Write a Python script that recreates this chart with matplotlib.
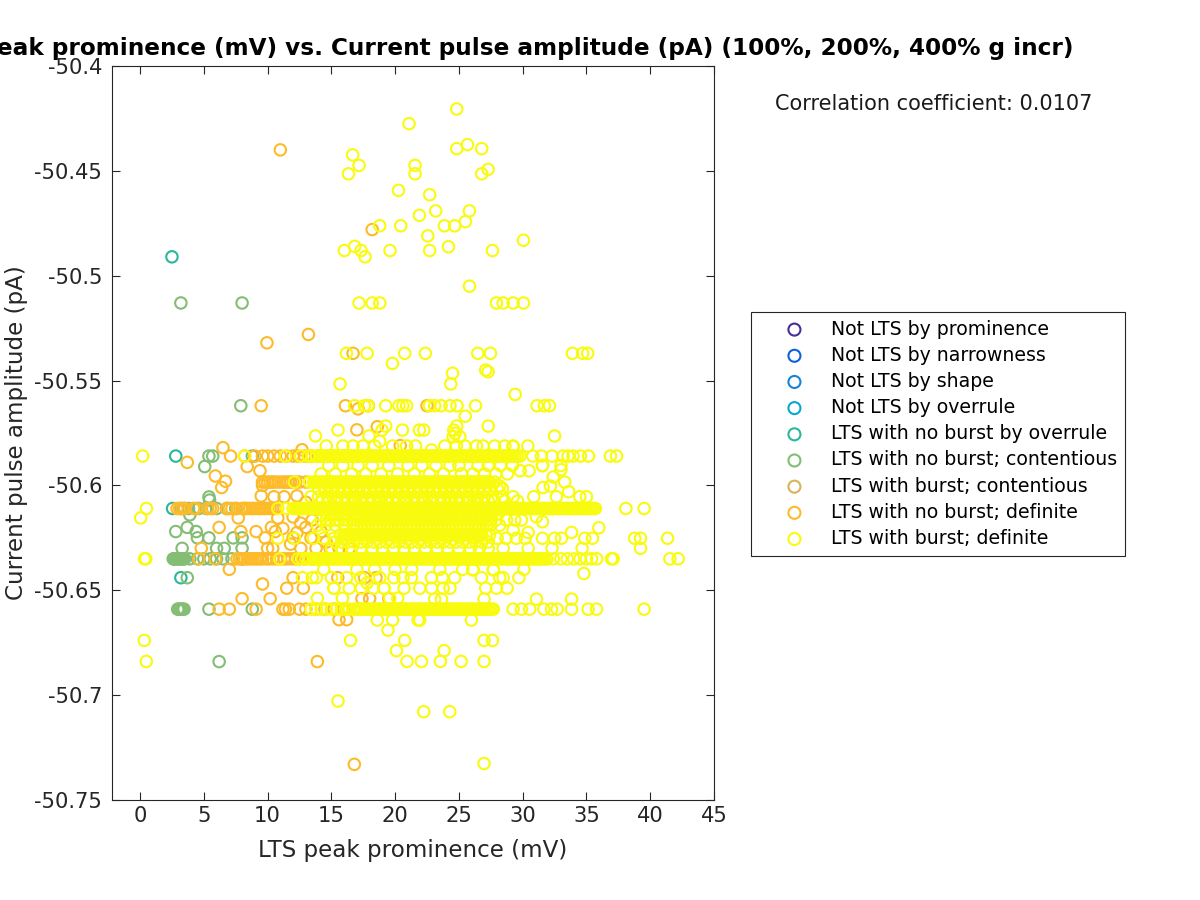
import matplotlib
matplotlib.use("Agg")
import matplotlib.pyplot as plt

TITLE = "LTS peak prominence (mV) vs. Current pulse amplitude (pA) (100%, 200%, 400% g incr)"
XLABEL = "LTS peak prominence (mV)"
YLABEL = "Current pulse amplitude (pA)"
CORR = "Correlation coefficient: 0.0107"
LABELS = ["Not LTS by prominence", "Not LTS by narrowness", "Not LTS by shape", "Not LTS by overrule",
          "LTS with no burst by overrule", "LTS with no burst; contentious", "LTS with burst; contentious",
          "LTS with no burst; definite", "LTS with burst; definite"]
COLORS = ["#452f98", "#0d60dc", "#1585d8", "#08a8c8", "#2ab79e", "#84bd74", "#d6b458", "#fdbb2a", "#f9fb0e"]
XTICKS = [0, 5, 10, 15, 20, 25, 30, 35, 40, 45]
YTICKS = [-50.75, -50.7, -50.65, -50.6, -50.55, -50.5, -50.45, -50.4]
YTICKLABELS = ["-50.75", "-50.7", "-50.65", "-50.6", "-50.55", "-50.5", "-50.45", "-50.4"]

# LTS with no burst by overrule
teal_x = [2.5, 2.8, 2.55, 2.7, 3.2]
teal_y = [-50.491, -50.586, -50.611, -50.635, -50.644]

# LTS with no burst; contentious
green_x = [3.2, 8.0, 7.9, 6.2, 5.4, 5.7, 8.8, 5.07, 5.4, 5.45, 3.9, 2.8, 3.7, 4.4, 4.5, 5.4, 7.3, 8.0, 3.3, 6.0, 6.6, 8.0, 3.7,
           3.2, 3.5, 3.8, 4.6, 5.2, 6.0, 6.8, 7.5, 8.2,
           2.6, 2.7, 2.8, 2.9, 3.0, 3.1, 3.2, 3.3, 3.4, 3.5, 3.9, 4.5, 5.0, 5.5, 6.0, 6.5, 7.2, 8.0,
           2.95, 3.05, 3.15, 3.25, 3.35, 3.45, 5.4, 8.8]
green_y = [-50.513, -50.513, -50.562, -50.684, -50.586, -50.586, -50.586, -50.591, -50.6055, -50.607, -50.614, -50.622, -50.620, -50.622, -50.625, -50.625, -50.625, -50.625, -50.630, -50.630, -50.630, -50.630, -50.644,
           -50.611, -50.611, -50.611, -50.611, -50.611, -50.611, -50.611, -50.611, -50.611,
           -50.635, -50.635, -50.635, -50.635, -50.635, -50.635, -50.635, -50.635, -50.635, -50.635, -50.635, -50.635, -50.635, -50.635, -50.635, -50.635, -50.635, -50.635,
           -50.659, -50.659, -50.659, -50.659, -50.659, -50.659, -50.659, -50.659]

# LTS with no burst; definite: scattered points
orange_x = [11.0, 18.2, 13.2, 9.95, 16.7, 9.5, 16.1, 17.1, 17.9, 22.5, 17.0, 18.6, 20.4, 12.7, 6.5, 3.7, 7.1, 5.9, 6.7, 6.4, 8.4,
            9.5, 7.7, 10.8, 9.1, 9.8, 6.2, 7.9, 4.8, 10.3, 10.6, 12.0, 13.0, 7.0, 9.6, 11.5, 12.8, 8.0, 10.2, 12.0, 15.5, 17.6,
            15.6, 16.2, 13.9, 16.8, 9.4, 9.6, 10.0, 10.4, 15.0, 18.5, 19.5, 17.4, 18.0,
            12.3, 13.0, 12.0, 12.6, 13.5, 11.2, 12.3, 13.4, 14.2, 14.6, 11.8, 12.6, 13.8, 14.9, 15.6, 16.4, 10.5, 11.3]
orange_y = [-50.440, -50.478, -50.528, -50.532, -50.537, -50.562, -50.562, -50.5635, -50.562, -50.562, -50.5735, -50.572, -50.581, -50.583, -50.582, -50.589, -50.586, -50.5955, -50.598, -50.601, -50.591,
            -50.605, -50.6155, -50.6155, -50.622, -50.625, -50.620, -50.622, -50.630, -50.620, -50.622, -50.625, -50.620, -50.640, -50.647, -50.649, -50.649, -50.654, -50.654, -50.644, -50.644, -50.644,
            -50.664, -50.664, -50.684, -50.733, -50.593, -50.6, -50.63, -50.63, -50.63, -50.644, -50.654, -50.654, -50.654,
            -50.605, -50.608, -50.615, -50.618, -50.6165, -50.6205, -50.6225, -50.625, -50.622, -50.627, -50.628, -50.630, -50.630, -50.630, -50.630, -50.630, -50.6054, -50.6054]
# LTS with no burst; definite: rows
orange_r586 = [8.2, 9.0, 9.6, 10.0, 10.5, 11.0, 11.5, 12.0, 12.4, 12.9, 13.4, 14.0, 15.0, 16.0]
orange_r598 = [9.6, 9.8, 10.0, 10.2, 10.4, 10.6, 10.9, 11.2, 11.4, 11.6, 11.8, 12.0, 12.2, 12.5, 13.0]
orange_r611 = [2.9, 3.1, 3.3, 3.5, 4.2, 4.4, 5.3, 5.5, 5.7, 6.8, 7.0, 7.2, 7.6, 8.0, 8.2, 8.4, 8.6, 8.8, 9.0, 9.2, 9.4, 9.6, 9.8, 10.0, 10.2, 10.4, 10.6]
orange_r635 = [4.6, 5.9, 7.6, 7.8, 8.0, 8.2, 8.4, 8.6, 8.8, 9.0, 9.2, 9.4, 9.6, 9.9, 10.1, 10.4, 10.7, 11.0, 11.3, 11.6, 11.9, 12.2, 12.5, 12.9, 13.5]
orange_r659 = [6.2, 7.0, 9.1, 11.2, 11.4, 11.7, 12.5, 13.0, 13.8, 14.5, 15.2, 16.0]

# LTS with burst; definite: scattered points, high values
yel_high_x = [24.83, 21.09, 24.83, 25.67, 26.79, 16.67, 17.17, 16.34, 21.56, 21.56, 26.79, 27.29, 20.26, 22.71, 25.82, 23.18, 21.9, 25.51, 23.86, 24.67, 20.44, 18.79, 22.56, 30.06, 24.18, 16.02, 16.83, 17.33, 17.64, 19.6, 22.71, 27.63, 25.83,
              17.17, 18.2, 18.8, 27.94, 28.47, 29.25, 30.06,
              16.18, 17.8, 20.75, 22.37, 26.48, 27.47, 33.9, 34.7, 35.1, 19.79, 24.5, 27.1, 27.29, 24.36, 15.68, 29.41]
yel_high_y = [-50.4205, -50.4275, -50.4394, -50.4375, -50.4394, -50.4424, -50.4474, -50.4514, -50.4474, -50.4514, -50.4514, -50.4493, -50.4593, -50.4614, -50.4691, -50.4691, -50.4712, -50.4742, -50.4762, -50.4762, -50.4762, -50.4762, -50.481, -50.4831, -50.4862, -50.488, -50.486, -50.488, -50.491, -50.488, -50.488, -50.488, -50.505,
              -50.513, -50.513, -50.513, -50.513, -50.513, -50.513, -50.513,
              -50.537, -50.537, -50.537, -50.537, -50.537, -50.537, -50.537, -50.537, -50.537, -50.5418, -50.5465, -50.545, -50.5458, -50.5516, -50.5516, -50.5566]
yel_r562 = [16.83, 17.6, 17.88, 19.26, 20.3, 20.6, 20.9, 22.7, 23.1, 23.6, 24.3, 24.85, 26.3, 31.13, 31.7, 32.1]
yel_mid_x = [25.5, 27.3, 24.83, 24.6, 24.7, 24.55, 25.07, 15.52, 13.75, 17.95, 19.26, 18.97, 20.57, 21.9, 22.25, 18.79, 16.7, 17.48, 22.85, 25.46, 26.38, 26.9, 29.25, 32.5, 29.25,
             31.55, 33.3, 32.18, 28.2, 29.8, 30.5, 33.0, 31.6, 32.4, 33.6]
yel_mid_y = [-50.567, -50.5717, -50.5717, -50.5736, -50.5752, -50.5768, -50.5768, -50.5736, -50.5764, -50.5764, -50.5717, -50.5736, -50.5736, -50.5736, -50.5736, -50.579, -50.5812, -50.5812, -50.5831, -50.5812, -50.5812, -50.5812, -50.5812, -50.5764, -50.5815,
             -50.5906, -50.5984, -50.6003, -50.6003, -50.593, -50.593, -50.5925, -50.601, -50.596, -50.603]
yel_low_x = [31.08, 31.55, 29.9, 35.97, 33.83, 30.43, 29.25, 28.73, 29.38, 34.8, 26.1, 27.7, 31.08, 33.83, 23.1, 23.63, 26.97, 21.93, 25.98, 20.75, 26.97, 27.63, 23.84,
             20.93, 22.06, 23.55, 25.17, 26.97, 22.24, 24.28, 26.97, 0.33, 0.49, 15.52, 16.5, 20.1, 19.44, 18.6, 19.8, 21.8, 13.9, 15.87, 19.58, 20.2, 19.13, 15.2, 17.35, 17.8,
             0.05]
yel_low_y = [-50.615, -50.6173, -50.6165, -50.6202, -50.6224, -50.6224, -50.6213, -50.6165, -50.6165, -50.642, -50.6403, -50.6403, -50.6542, -50.6542, -50.6542, -50.6542, -50.6542, -50.6642, -50.6642, -50.6739, -50.6739, -50.6739, -50.6788,
             -50.6839, -50.6839, -50.6839, -50.6839, -50.6839, -50.7079, -50.7079, -50.7326, -50.6739, -50.6839, -50.7028, -50.6739, -50.6788, -50.669, -50.6642, -50.6642, -50.6642, -50.6538, -50.6538, -50.6538, -50.6538, -50.649, -50.649, -50.649, -50.6465,
             -50.6155]
# LTS with burst; definite: rows
yel_r5812 = [14.6, 15.9, 18.4, 19.8, 20.9, 21.6, 23.9, 24.8, 27.8, 28.6, 30.4]
yel_r5905 = [14.8, 15.9, 17.1, 18.2, 19.5, 21.0, 22.1, 23.2, 24.3, 25.0, 26.5, 27.3, 28.26, 29.2, 31.55, 33.0]
yel_r5945 = [14.2, 15.3, 16.6, 17.7, 18.9, 20.2, 21.5, 22.7, 23.8, 25.2, 26.1, 27.0, 27.9, 28.8]
yel_r6015 = [14.0, 14.5, 15.0, 15.5, 16.0, 16.5, 17.0, 17.5, 18.0, 18.5, 19.0, 19.5, 20.0, 20.5, 21.0, 21.5, 22.0, 22.5, 23.0, 23.5, 24.0, 24.5, 25.0, 25.5, 26.0, 26.5, 27.0, 27.5, 28.0, 28.4]
yel_r6054 = [13.4, 14.0, 14.7, 15.4, 16.1, 16.8, 17.4, 18.1, 18.8, 19.4, 20.1, 20.8, 21.5, 22.2, 22.9, 23.6, 24.3, 25.0, 25.7, 26.4, 27.0, 27.6, 28.4, 29.25, 30.87, 32.65, 34.48, 35.0]
yel_r6075 = [14.3, 14.8, 15.3, 15.8, 16.3, 16.8, 17.3, 17.8, 18.3, 18.8, 19.3, 19.8, 20.3, 20.8, 21.3, 21.8, 22.3, 22.8, 23.3, 23.8, 24.3, 24.8, 25.3, 25.8, 26.3, 26.8, 27.3, 27.8, 28.6, 29.6]
yel_r625 = [10.8, 12.1, 13.6, 14.4, 15.2, 28.0, 28.7, 29.5, 30.2, 31.55, 32.5, 33.03, 34.87, 35.47, 38.79, 39.24, 41.36]
yel_r627 = [15.3, 15.8, 16.3, 16.8, 17.3, 17.8, 18.3, 18.8, 19.3, 19.8, 20.3, 20.8, 21.3, 21.8, 22.3, 22.8, 23.3, 23.8, 24.3, 24.8, 25.3, 25.8, 26.3, 26.8, 27.3]
yel_r630 = [15.0, 15.8, 16.6, 17.3, 18.2, 19.0, 19.9, 20.7, 21.5, 22.4, 23.3, 24.1, 25.0, 25.9, 26.6, 27.3, 28.47, 30.43, 32.3, 34.66, 39.24]
yel_r586 = [0.2, 8.2, 11.4, 12.6, 13.2, 13.5, 13.8, 14.1, 14.4, 14.7, 15.0, 15.3, 15.6, 15.9, 16.2, 16.5, 16.8, 17.1, 17.4, 17.7, 18.0, 18.3, 18.6, 18.9, 19.2, 19.5, 19.8, 20.1, 20.4, 20.7, 21.0, 21.3, 21.6, 21.9, 22.2, 22.5, 22.8, 23.1, 23.4, 23.7, 24.0, 24.3, 24.6, 24.9, 25.2, 25.5, 25.8, 26.1, 26.4, 26.7, 27.0, 27.3, 27.6, 27.9, 28.2, 28.5, 28.8, 29.1, 29.4, 29.8, 30.8, 31.47, 32.3, 33.17, 33.56, 33.95, 34.53, 35.16, 36.88, 37.36]
yel_r586b = [14.25, 14.55, 14.85, 15.15, 15.45, 15.75, 16.05, 16.35, 16.65, 16.95, 17.25, 17.55, 17.85, 18.15, 18.45, 18.75, 19.05, 19.35, 19.65, 19.95, 20.25, 20.55, 20.85, 21.15, 21.45, 21.75, 22.05, 22.35, 22.65, 22.95, 23.25, 23.55, 23.85, 24.15, 24.45, 24.75, 25.05, 25.35, 25.65, 25.95, 26.25, 26.55, 26.85, 27.15, 27.45, 27.75, 28.05, 28.35, 28.65, 28.95, 29.25, 29.6]
yel_r598 = [12.1, 13.3, 13.6, 13.9, 14.2, 14.5, 14.8, 15.1, 15.4, 15.7, 16.0, 16.3, 16.6, 16.9, 17.2, 17.5, 17.8, 18.1, 18.4, 18.7, 19.0, 19.3, 19.6, 19.9, 20.2, 20.5, 20.8, 21.1, 21.4, 21.7, 22.0, 22.3, 22.6, 22.9, 23.2, 23.5, 23.8, 24.1, 24.4, 24.7, 25.0, 25.3, 25.6, 25.9, 26.2, 26.5, 26.8, 27.1, 27.4]
yel_r598b = [13.75, 14.05, 14.35, 14.65, 14.95, 15.25, 15.55, 15.85, 16.15, 16.45, 16.75, 17.05, 17.35, 17.65, 17.95, 18.25, 18.55, 18.85, 19.15, 19.45, 19.75, 20.05, 20.35, 20.65, 20.95, 21.25, 21.55, 21.85, 22.15, 22.45, 22.75, 23.05, 23.35, 23.65, 23.95, 24.25, 24.55, 24.85, 25.15, 25.45, 25.75, 26.05, 26.35, 26.65, 26.95, 27.25, 27.8]
yel_r603 = [14.5, 15.0, 15.5, 16.0, 16.5, 17.0, 17.5, 18.0, 18.5, 19.0, 19.5, 20.0, 20.5, 21.0, 21.5, 22.0, 22.5, 23.0, 23.5, 24.0, 24.5, 25.0, 25.5, 26.0, 26.5, 27.0]
yel_r611 = [0.5, 10.8, 11.5, 12.0, 12.3, 12.6, 12.9, 13.2, 13.5, 13.8, 14.1, 14.4, 14.7, 15.0, 15.3, 15.6, 15.9, 16.2, 16.5, 16.8, 17.1, 17.4, 17.7, 18.0, 18.3, 18.6, 18.9, 19.2, 19.5, 19.8, 20.1, 20.4, 20.7, 21.0, 21.3, 21.6, 21.9, 22.2, 22.5, 22.8, 23.1, 23.4, 23.7, 24.0, 24.3, 24.6, 24.9, 25.2, 25.5, 25.8, 26.1, 26.4, 26.7, 27.0, 27.3, 27.6, 27.9, 28.2, 28.5, 28.8, 29.1, 29.4, 29.7, 30.0, 30.3, 30.6, 30.9, 31.2, 31.5, 31.8, 32.1, 32.4, 32.7, 33.0, 33.3, 33.6, 33.9, 34.2, 34.5, 34.8, 35.1, 35.4, 35.7, 38.09, 39.52]
yel_r611b = [12.15, 12.45, 12.75, 13.05, 13.35, 13.65, 13.95, 14.25, 14.55, 14.85, 15.15, 15.45, 15.75, 16.05, 16.35, 16.65, 16.95, 17.25, 17.55, 17.85, 18.15, 18.45, 18.75, 19.05, 19.35, 19.65, 19.95, 20.25, 20.55, 20.85, 21.15, 21.45, 21.75, 22.05, 22.35, 22.65, 22.95, 23.25, 23.55, 23.85, 24.15, 24.45, 24.75, 25.05, 25.35, 25.65, 25.95, 26.25, 26.55, 26.85, 27.15, 27.45, 27.75, 28.05, 28.35, 28.65, 28.95, 29.25, 29.55, 29.85, 30.15, 30.45, 30.75, 31.05, 31.35, 31.65, 31.95, 32.25, 32.55, 32.85, 33.15, 33.45, 33.75, 34.05, 34.35, 34.65, 34.95, 35.25, 35.55]
yel_r6135 = [14.6, 15.1, 15.6, 16.1, 16.6, 17.1, 17.6, 18.1, 18.6, 19.1, 19.6, 20.1, 20.6, 21.1, 21.6, 22.1, 22.6, 23.1, 23.6, 24.1, 24.6, 25.1, 25.6, 26.1, 26.6, 27.1, 27.6, 28.1]
yel_r616 = [14.2, 14.6, 14.9, 15.3, 15.6, 16.0, 16.3, 16.6, 17.0, 17.3, 17.6, 18.0, 18.2, 18.6, 18.8, 19.1, 19.4, 19.7, 20.0, 20.3, 20.6, 20.9, 21.2, 21.5, 21.8, 22.1, 22.4, 22.7, 23.0, 23.3, 23.6, 23.9, 24.2, 24.5, 24.8, 25.1, 25.4, 25.7, 26.0, 26.3, 26.6, 26.9, 27.2, 27.5, 27.9]
yel_r619 = [13.9, 14.6, 15.3, 16.0, 16.7, 17.0, 17.3, 17.6, 17.9, 18.2, 18.5, 18.8, 19.1, 19.4, 19.7, 20.0, 20.3, 20.6, 20.9, 21.2, 21.5, 21.8, 22.1, 22.4, 22.7, 23.0, 23.3, 23.6, 23.9, 24.2, 24.5, 24.8, 25.1, 25.4, 25.7, 26.0, 26.3, 26.6, 26.9, 27.2, 27.5, 28.2]
yel_r622 = [15.7, 16.0, 16.3, 16.6, 16.9, 17.2, 17.5, 17.8, 18.1, 18.4, 18.7, 19.0, 19.3, 19.6, 19.9, 20.2, 20.5, 20.8, 21.1, 21.4, 21.7, 22.0, 22.3, 22.6, 22.9, 23.2, 23.5, 23.8, 24.1, 24.4, 24.7, 25.0, 25.3, 25.6, 25.9, 26.2, 26.5, 26.8, 27.1, 27.4]
yel_r622b = [16.15, 16.45, 16.75, 17.05, 17.35, 17.65, 17.95, 18.25, 18.55, 18.85, 19.15, 19.45, 19.75, 20.05, 20.35, 20.65, 20.95, 21.25, 21.55, 21.85, 22.15, 22.45, 22.75, 23.05, 23.35, 23.65, 23.95, 24.25, 24.55, 24.85, 25.15, 25.45, 25.75, 26.05, 26.35, 26.65]
yel_r635 = [0.35, 0.45, 10.95, 12.4, 12.7, 13.0, 13.3, 13.6, 13.9, 14.2, 14.5, 14.8, 15.1, 15.4, 15.7, 16.0, 16.3, 16.6, 16.9, 17.2, 17.5, 17.8, 18.1, 18.4, 18.7, 19.0, 19.3, 19.6, 19.9, 20.2, 20.5, 20.8, 21.1, 21.4, 21.7, 22.0, 22.3, 22.6, 22.9, 23.2, 23.5, 23.8, 24.1, 24.4, 24.7, 25.0, 25.3, 25.6, 25.9, 26.2, 26.5, 26.8, 27.1, 27.4, 27.7, 28.0, 28.3, 28.6, 28.9, 29.2, 29.5, 29.8, 30.1, 30.4, 30.7, 31.0, 31.3, 31.6, 31.9, 32.4, 33.0, 33.5, 34.0, 34.5, 35.0, 35.4, 35.8, 36.96, 37.1, 41.54, 42.19]
yel_r635b = [13.75, 14.05, 14.35, 14.65, 14.95, 15.25, 15.55, 15.85, 16.15, 16.45, 16.75, 17.05, 17.35, 17.65, 17.95, 18.25, 18.55, 18.85, 19.15, 19.45, 19.75, 20.05, 20.35, 20.65, 20.95, 21.25, 21.55, 21.85, 22.15, 22.45, 22.75, 23.05, 23.35, 23.65, 23.95, 24.25, 24.55, 24.85, 25.15, 25.45, 25.75, 26.05, 26.35, 26.65, 26.95, 27.25, 27.55, 27.85, 28.15, 28.45, 28.75, 29.05, 29.35, 29.65, 29.95, 30.25, 30.55, 30.85, 31.15, 31.45, 31.75]
yel_r640 = [14.4, 17.0, 18.4, 20.0, 21.3, 23.5, 25.3, 26.1, 27.7, 30.1]
yel_r644 = [12.73, 13.5, 13.82, 15.0, 16.2, 17.3, 18.8, 19.9, 20.62, 21.28, 22.85, 23.7, 24.67, 26.77, 28.2, 28.47, 29.7]
yel_r649 = [15.2, 16.4, 18.3, 19.13, 20.7, 21.93, 22.85, 23.76, 24.3, 27.1, 27.95, 28.78]
yel_r659 = [13.4, 13.8, 14.2, 14.6, 15.0, 15.4, 15.8, 16.1, 16.4, 16.8, 17.2, 17.6, 18.0, 18.4, 18.7, 19.0, 19.3, 19.6, 19.9, 20.2, 20.5, 20.8, 21.1, 21.4, 21.7, 22.0, 22.3, 22.6, 22.9, 23.2, 23.5, 23.8, 24.1, 24.4, 24.7, 25.0, 25.3, 25.6, 25.9, 26.2, 26.5, 26.8, 27.1, 27.4, 27.7, 29.25, 29.9, 30.55, 31.66, 32.26, 32.7, 33.83, 35.13, 35.79, 39.52]
yel_r659b = [16.25, 17.0, 17.4, 17.8, 18.2, 18.55, 18.85, 19.15, 19.45, 19.75, 20.05, 20.35, 20.65, 20.95, 21.25, 21.55, 21.85, 22.15, 22.45, 22.75, 23.05, 23.35, 23.65, 23.95, 24.25, 24.55, 24.85, 25.15, 25.45, 25.75, 26.05, 26.35, 26.65, 26.95, 27.25, 27.55]

orange_rows = [(-50.586, orange_r586), (-50.5984, orange_r598), (-50.611, orange_r611), (-50.635, orange_r635), (-50.659, orange_r659)]
yellow_rows = [(-50.562, yel_r562), (-50.5812, yel_r5812), (-50.586, yel_r586), (-50.586, yel_r586b), (-50.5905, yel_r5905), (-50.5945, yel_r5945),
               (-50.5984, yel_r598), (-50.5984, yel_r598b), (-50.6015, yel_r6015), (-50.603, yel_r603), (-50.6054, yel_r6054), (-50.6075, yel_r6075),
               (-50.611, yel_r611), (-50.611, yel_r611b), (-50.6135, yel_r6135), (-50.6165, yel_r616), (-50.619, yel_r619), (-50.6236, yel_r622), (-50.6236, yel_r622b),
               (-50.6252, yel_r625), (-50.627, yel_r627), (-50.630, yel_r630), (-50.635, yel_r635), (-50.635, yel_r635b), (-50.640, yel_r640),
               (-50.644, yel_r644), (-50.649, yel_r649), (-50.659, yel_r659), (-50.659, yel_r659b)]


def from_rows(rows):
    xs, ys = [], []
    for y, row in rows:
        xs += row
        ys += [y] * len(row)
    return xs, ys


orx, ory = from_rows(orange_rows)
yrx, yry = from_rows(yellow_rows)

series = {
    4: (teal_x, teal_y),
    5: (green_x, green_y),
    7: (orange_x + orx, orange_y + ory),
    8: (yel_high_x + yel_mid_x + yel_low_x + yrx, yel_high_y + yel_mid_y + yel_low_y + yry),
}

INK = "#262626"
fig = plt.figure(figsize=(12, 9), dpi=100)
ax = fig.add_axes([112 / 1200, 1 - 800 / 900, 602 / 1200, 734 / 900])
for i, (label, color) in enumerate(zip(LABELS, COLORS)):
    xs, ys = series.get(i, ([], []))
    ax.scatter(xs, ys, s=68, facecolors="none", edgecolors=color, linewidths=1.5, label=label, zorder=3 + i)

ax.set_xlim(-2.2, 45)
ax.set_ylim(-50.75, -50.4)
ax.set_xticks(XTICKS)
ax.set_yticks(YTICKS)
ax.set_yticklabels(YTICKLABELS)
ax.tick_params(direction="in", length=6, width=0.8, top=True, right=True, labelsize=15.2, colors=INK)
ax.tick_params(axis="y", pad=7)
ax.tick_params(axis="x", pad=4)
for spine in ax.spines.values():
    spine.set_color(INK)
    spine.set_linewidth(0.8)
ax.set_xlabel(XLABEL, fontsize=16.6, color=INK, labelpad=10)
ax.set_ylabel(YLABEL, fontsize=16.6, color=INK, labelpad=4.5)
fig.text(501 / 1200, 1 - 48 / 900, TITLE, fontsize=16.7, fontweight="bold", color="black", ha="center", va="center")
fig.text(775 / 1200, 1 - 104 / 900, CORR, fontsize=15, color="#1a1a1a", ha="left", va="center")

leg = ax.legend(loc="upper left", bbox_to_anchor=(751 / 1200, 1 - 312 / 900), bbox_transform=fig.transFigure,
                fontsize=13.6, frameon=True, fancybox=False, edgecolor=INK, framealpha=1, borderaxespad=0,
                borderpad=0.4, labelspacing=0.38, handlelength=3.8, handletextpad=0.03, scatterpoints=1)
leg.get_frame().set_linewidth(0.8)
for handle in leg.legend_handles:
    handle.set_sizes([75])
fig.savefig("out.png", dpi=100)
